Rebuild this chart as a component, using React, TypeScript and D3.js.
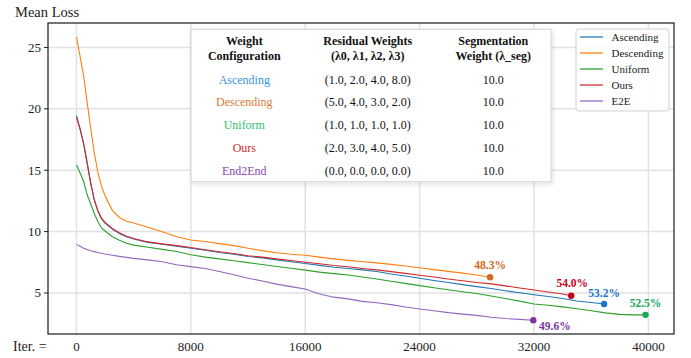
import React from 'react'
import * as d3 from 'd3'

const W = 691, H = 358
const margin = { top: 23, right: 17, bottom: 24, left: 48 }
const FONT = 'Liberation Serif, DejaVu Serif, serif'

// iteration grid shared by all runs; each run ends at its own last iteration
const iterGrid = [0, 250, 500, 750, 1000, 1250, 1500, 1750, 2000, 2500, 3000, 3500, 4000,
  5000, 6000, 7000, 8000, 9000, 10000, 11000, 12000, 13000, 14000, 15000, 16000, 17000,
  18000, 19000, 20000, 21000, 22000, 23000, 24000, 25000, 26000, 27000, 28000, 29000,
  30000, 31000, 32000, 33000, 34000, 35000, 36000, 37000, 38000, 39000]

const seriesNames = ['Ascending', 'Descending', 'Uniform', 'Ours', 'E2E']
const seriesColors = ['#1f77b4', '#ff7f0e', '#2ca02c', '#d62728', '#9467bd']
const lastIter = [36900, 28930, 39800, 34600, 31950]

const ascendingLoss = [19.45, 18.4, 17.2, 15.6, 13.9, 12.6, 11.65, 11.05, 10.7, 10.2, 9.85, 9.58, 9.4,
  9.12, 8.97, 8.82, 8.64, 8.48, 8.3, 8.16, 7.97, 7.86, 7.7, 7.55, 7.4, 7.25, 7.1, 7.0, 6.88, 6.75,
  6.55, 6.38, 6.2, 6.02, 5.86, 5.68, 5.52, 5.36, 5.18, 5.02, 4.86, 4.72, 4.55, 4.35, 4.22, 4.1]
const descendingLoss = [25.87, 24.3, 22.7, 20.5, 18.4, 16.4, 14.8, 13.7, 12.9, 11.75, 11.15, 10.85, 10.7,
  10.35, 9.98, 9.58, 9.32, 9.2, 9.02, 8.86, 8.64, 8.45, 8.28, 8.16, 8.08, 7.92, 7.78, 7.66, 7.55,
  7.45, 7.33, 7.2, 7.05, 6.9, 6.76, 6.62, 6.46, 6.28]
const uniformLoss = [15.42, 14.8, 14.1, 13.0, 12.25, 11.45, 10.8, 10.3, 10.05, 9.6, 9.3, 9.05, 8.9,
  8.72, 8.55, 8.38, 8.12, 7.92, 7.78, 7.62, 7.47, 7.32, 7.16, 7.02, 6.86, 6.7, 6.58, 6.47, 6.3,
  6.14, 5.95, 5.78, 5.6, 5.43, 5.26, 5.1, 4.96, 4.76, 4.55, 4.34, 4.1, 4.0, 3.87, 3.72, 3.55,
  3.38, 3.26, 3.22, 3.22]
const oursLoss = [19.3, 18.35, 17.15, 15.55, 13.95, 12.55, 11.7, 11.1, 10.75, 10.25, 9.9, 9.62, 9.44,
  9.16, 9.0, 8.86, 8.7, 8.52, 8.36, 8.22, 8.03, 7.92, 7.78, 7.64, 7.5, 7.38, 7.24, 7.14, 7.0,
  6.88, 6.74, 6.6, 6.44, 6.3, 6.14, 6.0, 5.86, 5.74, 5.58, 5.4, 5.24, 5.08, 4.92, 4.78]
const e2eLoss = [8.96, 8.8, 8.65, 8.55, 8.44, 8.37, 8.3, 8.24, 8.18, 8.08, 7.98, 7.9, 7.82,
  7.7, 7.55, 7.3, 7.15, 7.0, 6.75, 6.48, 6.2, 5.98, 5.72, 5.52, 5.32, 4.92, 4.66, 4.52, 4.32,
  4.2, 4.05, 3.86, 3.7, 3.55, 3.4, 3.28, 3.18, 3.02, 2.92, 2.85, 2.78]
const lossSeries = [ascendingLoss, descendingLoss, uniformLoss, oursLoss, e2eLoss]

// end-point labels
const endLabels = ['53.2%', '48.3%', '52.5%', '54.0%', '49.6%']
const endColors = ['#1c75cc', '#d2691e', '#17a858', '#c8001c', '#7d36a0']
const labelOffsets = [[0, -6.6, 'middle'], [0, -8, 'middle'], [0, -8, 'middle'], [1, -9, 'middle'], [5.7, 9.7, 'start']] as const

// table
const tableHeader = [['Weight', 'Configuration'], ['Residual Weights', '(λ0, λ1, λ2, λ3)'], ['Segmentation', 'Weight (λ_seg)']]
const tableConfigs = ['Ascending', 'Descending', 'Uniform', 'Ours', 'End2End']
const tableConfigColors = ['#3b94dc', '#e07b3c', '#2ebd6b', '#d42a2a', '#8e44ad']
const tableResidual = ['(1.0, 2.0, 4.0, 8.0)', '(5.0, 4.0, 3.0, 2.0)', '(1.0, 1.0, 1.0, 1.0)', '(2.0, 3.0, 4.0, 5.0)', '(0.0, 0.0, 0.0, 0.0)']
const tableSeg = ['10.0', '10.0', '10.0', '10.0', '10.0']

const xTicks = [0, 8000, 16000, 24000, 32000, 40000]
const yTicks = [5, 10, 15, 20, 25]

export default function App() {
  const x = d3.scaleLinear().domain([-1990, 41790]).range([margin.left, W - margin.right])
  const y = d3.scaleLinear().domain([1.66, 26.99]).range([H - margin.bottom, margin.top])

  const series = seriesNames.map((name, i) => {
    const vals = lossSeries[i]
    const pts = vals.map((v, j) => [j === vals.length - 1 ? lastIter[i] : iterGrid[j], v] as [number, number])
    return { name, color: seriesColors[i], pts }
  })
  const line = d3.line<[number, number]>().x(d => x(d[0])).y(d => y(d[1]))

  const x0 = margin.left, x1 = W - margin.right, y0 = margin.top, y1 = H - margin.bottom
  const tb = { x: 191, y: 29.3, w: 360, h: 152.4 }
  const colX = [244.3, 367.7, 493.3]

  return (
    <svg width={W} height={H} style={{ position: 'absolute', left: 0, top: 0 }}>
      <defs>
        <filter id="shadow" x="-10%" y="-10%" width="120%" height="130%">
          <feDropShadow dx="1" dy="2" stdDeviation="2.5" floodColor="#000" floodOpacity="0.13" />
        </filter>
        <clipPath id="plot"><rect x={x0} y={y0} width={x1 - x0} height={y1 - y0} /></clipPath>
      </defs>
      <rect width={W} height={H} fill="#fff" />
      <g fontFamily={FONT}>

        {/* grid */}
        <g stroke="#e2e2e2" strokeWidth={1.5}>
          {xTicks.map(t => <line key={'gx' + t} x1={x(t)} x2={x(t)} y1={y0} y2={y1} />)}
          {yTicks.map(t => <line key={'gy' + t} x1={x0} x2={x1} y1={y(t)} y2={y(t)} />)}
        </g>

        {/* lines */}
        <g clipPath="url(#plot)" fill="none" strokeWidth={1.1}>
          {series.map(s => <path key={s.name} d={line(s.pts) ?? ''} stroke={s.color} />)}
        </g>

        {/* end points + labels */}
        {series.map((s, i) => {
          const p = s.pts[s.pts.length - 1]
          const [dx, dy, anchor] = labelOffsets[i]
          return (
            <g key={'end' + s.name}>
              <circle cx={x(p[0])} cy={y(p[1])} r={3.2} fill={endColors[i]} />
              <text x={x(p[0]) + dx} y={y(p[1]) + dy} textAnchor={anchor} fontSize={11.5}
                fontWeight="bold" fill={endColors[i]}>{endLabels[i]}</text>
            </g>
          )
        })}

        {/* spines */}
        <rect x={x0} y={y0} width={x1 - x0} height={y1 - y0} fill="none" stroke="#1a1a1a" strokeWidth={1.2} />

        {/* y axis */}
        {yTicks.map(t => (
          <g key={'yt' + t}>
            <line x1={x0 - 4} x2={x0} y1={y(t)} y2={y(t)} stroke="#1a1a1a" strokeWidth={1} />
            <text x={x0 - 7} y={y(t)} dy="0.33em" textAnchor="end" fontSize={13} fill="#222">{t}</text>
          </g>
        ))}
        <text x={15} y={16.5} fontSize={14.5} fill="#222">Mean Loss</text>

        {/* x axis */}
        {xTicks.map(t => (
          <text key={'xt' + t} x={x(t)} y={350.5} textAnchor="middle" fontSize={13} fill="#222">{t}</text>
        ))}
        <text x={13} y={350.5} fontSize={14} fill="#222">Iter. =</text>

        {/* table */}
        <g filter="url(#shadow)">
          <rect x={tb.x} y={tb.y} width={tb.w} height={tb.h} fill="#fff" stroke="#d4d4d4" strokeWidth={1} />
        </g>
        <g fontSize={12} textAnchor="middle" fill="#111">
          {tableHeader.map((h, c) => (
            <g key={'th' + c} fontWeight="bold">
              <text x={colX[c]} y={45}>{h[0]}</text>
              <text x={colX[c]} y={59.5}>{h[1]}</text>
            </g>
          ))}
          {tableConfigs.map((cfg, r) => {
            const ry = 83.5 + r * 22.8
            return (
              <g key={'tr' + r}>
                <text x={colX[0]} y={ry} fill={tableConfigColors[r]}>{cfg}</text>
                <text x={colX[1]} y={ry}>{tableResidual[r]}</text>
                <text x={colX[2]} y={ry}>{tableSeg[r]}</text>
              </g>
            )
          })}
        </g>

        {/* legend */}
        <rect x={576} y={29} width={93} height={82} rx={3} fill="#fff" fillOpacity={0.85} stroke="#d0d0d0" strokeWidth={1} />
        {series.map((s, i) => {
          const ly = 37 + i * 16
          return (
            <g key={'lg' + s.name}>
              <line x1={580} x2={603} y1={ly} y2={ly} stroke={s.color} strokeWidth={1.8} strokeOpacity={0.7} />
              <text x={611.5} y={ly} dy="0.33em" fontSize={11} fill="#222">{s.name}</text>
            </g>
          )
        })}
      </g>
    </svg>
  )
}
